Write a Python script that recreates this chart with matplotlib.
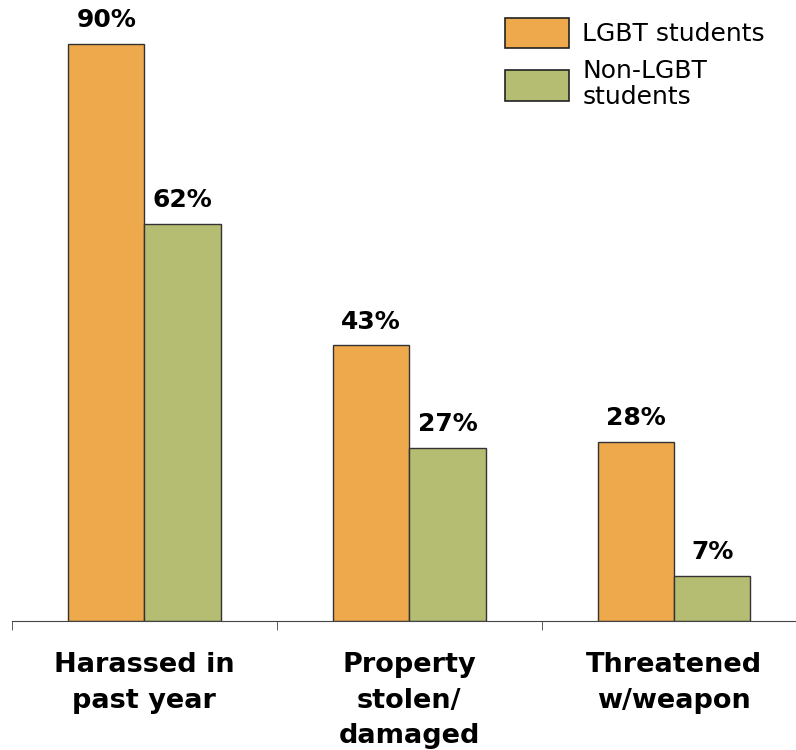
import numpy as np
import matplotlib.pyplot as plt
from matplotlib.patches import Patch

# data
categories = ['Harassed in\npast year', 'Property\nstolen/\ndamaged', 'Threatened\nw/weapon']
lgbt = [90, 43, 28]
non_lgbt = [62, 27, 7]
series_names = ['LGBT students', 'Non-LGBT\nstudents']

orange = '#EEA94D'
green = '#B5BD73'
edge = '#333333'

fig = plt.figure(figsize=(7.96, 7.5), dpi=100)
ax = fig.add_axes([12 / 796, 1 - 621 / 750, 1 - 12 / 796, 621 / 750])

x = np.arange(len(categories))
w = 0.288
b1 = ax.bar(x - w / 2, lgbt, w, color=orange, edgecolor=edge, linewidth=1)
b2 = ax.bar(x + w / 2, non_lgbt, w, color=green, edgecolor=edge, linewidth=1)

# value labels above bars
for bars, vals in [(b1, lgbt), (b2, non_lgbt)]:
    for bar, v in zip(bars, vals):
        ax.annotate('%d%%' % v, (bar.get_x() + bar.get_width() / 2, v),
                    xytext=(0, 8.5), textcoords='offset points',
                    ha='center', va='bottom', fontsize=18, fontweight='bold')

ax.set_xlim(-0.5, 2.46)
ax.set_ylim(0, 96.9)

for s in ['top', 'right', 'left']:
    ax.spines[s].set_visible(False)
ax.spines['bottom'].set_color('#444444')
ax.set_yticks([])

ax.set_xticks(x)
ax.set_xticklabels(categories, fontsize=19.5, fontweight='bold', linespacing=1.48, va='top')
ax.tick_params(axis='x', which='major', length=0, pad=22.5)
ax.set_xticks([-0.5, 0.5, 1.5], minor=True)
ax.tick_params(axis='x', which='minor', length=6.5, color='#444444')

handles = [Patch(facecolor=orange, edgecolor='#222222', linewidth=1.2),
           Patch(facecolor=green, edgecolor='#222222', linewidth=1.2)]
leg = ax.legend(handles, series_names, loc='upper left', bbox_to_anchor=(476 / 784, 1.0),
                frameon=False, fontsize=18, handlelength=2.52, handleheight=1.5,
                handletextpad=0.56, labelspacing=0.45, borderaxespad=0.3)
for t in leg.get_texts():
    t.set_linespacing(1.1)

fig.savefig('out.png', dpi=100)
